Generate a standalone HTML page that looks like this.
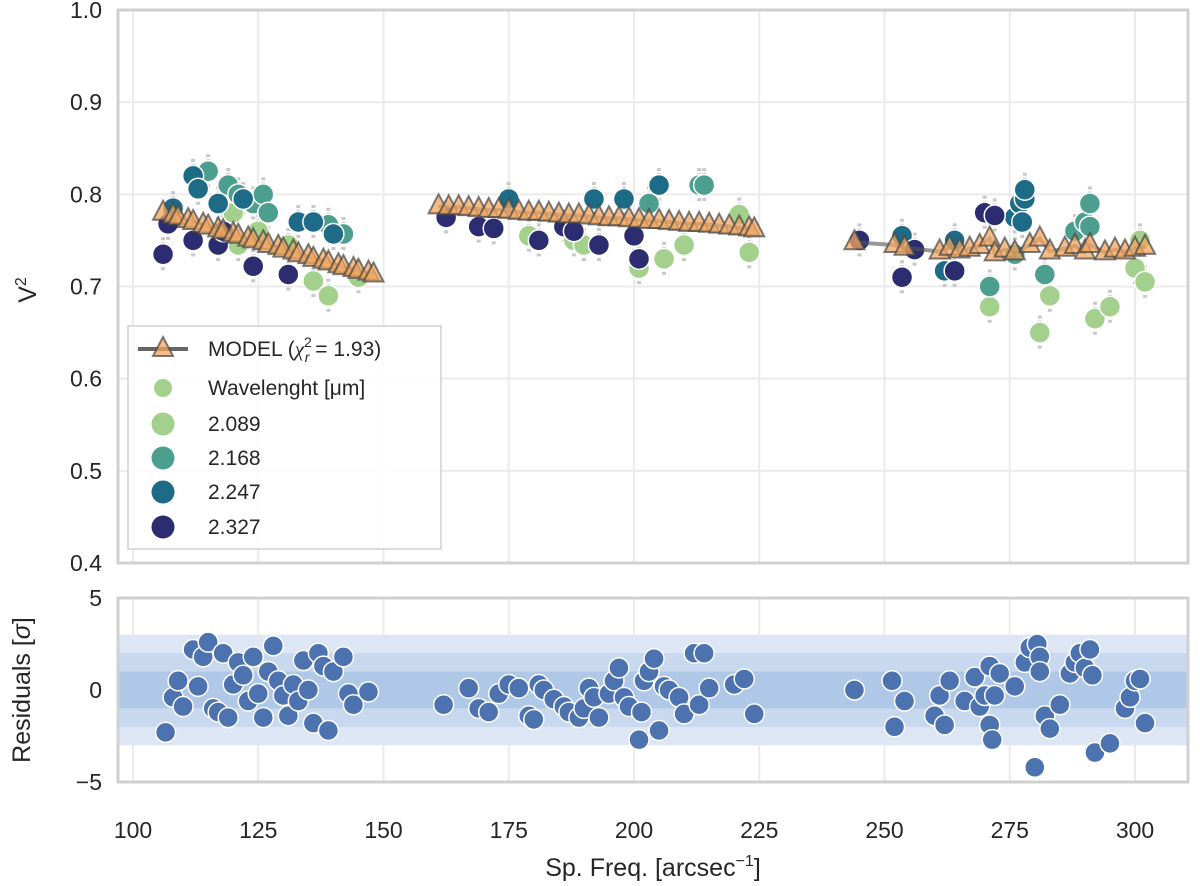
<!DOCTYPE html>
<html><head><meta charset="utf-8"><style>
body{margin:0;background:#fff;}
svg{display:block;font-family:"Liberation Sans",sans-serif;}
</style></head><body>
<svg id="chart" width="1200" height="886" viewBox="0 0 1200 886"></svg>
<script>
// ---- data ----
const xTicks=[100,125,150,175,200,225,250,275,300];
const yTicks=[0.4,0.5,0.6,0.7,0.8,0.9,1.0];
const rTicks=[-5,0,5];
const wlLabels=["2.089","2.168","2.247","2.327"];
const wlColors=["#a3d18d","#4c9f8f","#1e6b88","#2b2d70"];
const f2089=[120,121,125,131,136,139,145,179,188,190,201,206,210,221,223,271,281,283,292,295,300,301,302];
const v2089=[0.78,0.745,0.76,0.745,0.706,0.69,0.71,0.755,0.75,0.745,0.72,0.73,0.745,0.778,0.737,0.678,0.65,0.69,0.665,0.678,0.72,0.75,0.705];
const f2168=[115,119,121,124,126,127,139,142,203,213,214,271,276,282,288,290,291,291];
const v2168=[0.825,0.81,0.80,0.79,0.80,0.78,0.767,0.757,0.79,0.81,0.81,0.70,0.735,0.713,0.76,0.77,0.79,0.765];
const f2247=[108,112,113,117,122,133,136,140,175,192,198,205,253.5,262,264,276,277,278,277.5,278];
const v2247=[0.785,0.82,0.806,0.79,0.795,0.77,0.77,0.757,0.795,0.795,0.795,0.81,0.755,0.717,0.75,0.775,0.79,0.795,0.77,0.805];
const f2327=[106,107,112,117,118,124,131,162.5,169,172,181,186,188,193,200,201,245,253.5,256,264,270,272];
const v2327=[0.735,0.768,0.75,0.745,0.76,0.722,0.713,0.775,0.765,0.763,0.75,0.765,0.76,0.745,0.755,0.73,0.75,0.71,0.74,0.717,0.78,0.777];
const fModel=[106,108,109,111,112,114,115,117,118,120,121,123,124,126,127,129,130,132,133,135,136,138,139,141,142,144,145,147,148,
161,163,165,167,169,171,173,175,177,179,181,183,185,187,189,191,193,195,197,199,201,203,205,207,209,211,213,215,217,219,221,223,224,
244,252,254,261,263,265,267,269,271,272,274,276,279,281,283,286,288,290,291,294,296,298,300,302];
const vModel=[0.78,0.777,0.775,0.772,0.770,0.767,0.765,0.762,0.760,0.757,0.755,0.752,0.750,0.748,0.745,0.743,0.740,0.738,0.735,0.733,0.730,0.728,0.726,0.723,0.721,0.719,0.717,0.715,0.713,
0.787,0.786,0.786,0.785,0.784,0.783,0.783,0.782,0.781,0.780,0.780,0.779,0.778,0.777,0.777,0.776,0.775,0.774,0.774,0.773,0.772,0.771,0.771,0.770,0.769,0.768,0.768,0.767,0.766,0.765,0.764,0.763,0.762,
0.748,0.745,0.742,0.738,0.742,0.739,0.741,0.744,0.752,0.736,0.740,0.737,0.745,0.752,0.738,0.741,0.744,0.738,0.745,0.737,0.740,0.738,0.741,0.743];
const fRes=[106.5,108,109,110,112,113,114,115,116,117,118,119,120,121,122,123,124,125,126,127,128,129,130,131,132,133,134,135,136,137,138,139,140,142,143,144,147,
162,167,169,171,173,175,177,179,180,181,182,184,186,187,189,190,191,192,193,195,196,197,198,199,201,201.5,202,203,204,205,206,207,209,210,212,213,214,215,220,222,224,
244,251.5,252,254,260,261,262,263,266,268,269,270,271,271.5,271,272,273,276,278,279,280,280.5,281,281,282,283,285,287,288,289,290,291,291.5,292,295,298,299,300,301,302];
const vRes=[-2.3,-0.4,0.5,-0.9,2.2,0.2,1.8,2.6,-1.0,-1.2,2.0,-1.5,0.3,1.5,0.8,-0.6,1.8,-0.2,-1.5,1.0,2.4,0.5,-0.3,-1.4,0.3,-0.6,1.6,0,-1.8,2.0,1.3,-2.2,1.0,1.8,-0.2,-0.8,-0.1,
-0.8,0.1,-1.0,-1.2,-0.2,0.3,0.1,-1.4,-1.6,0.3,0,-0.5,-0.9,-1.2,-1.5,-1.0,0.1,-0.4,-1.5,-0.2,0.5,1.2,-0.4,-0.9,-2.7,-1.2,0.5,1.0,1.7,-2.2,0.2,0.0,-0.4,-1.3,2.0,-0.8,2.0,0.1,0.3,0.6,-1.3,
0,0.5,-2.0,-0.6,-1.4,-0.3,-1.9,0.5,-0.6,0.7,-0.9,-0.3,-1.9,-2.7,1.3,-0.3,0.9,0.2,1.5,2.3,-4.2,2.5,1.8,1.0,-1.4,-2.1,-0.8,0.9,1.5,2.0,1.2,2.2,0.8,-3.4,-2.9,-1.0,-0.4,0.5,0.6,-1.8];

// ---- scales ----
const X0=118,X1=1188;
const xs=f=>133+(f-100)*(1135-133)/200;
const ys=v=>563-(v-0.4)*(553/0.6);
const rs=r=>690-r*18.4;
const svg=document.getElementById('chart');
const NS='http://www.w3.org/2000/svg';
function mk(tag,attrs,parent){const e=document.createElementNS(NS,tag);for(const k in attrs)e.setAttribute(k,attrs[k]);(parent||svg).appendChild(e);return e;}

const grid=mk('g',{});


xTicks.forEach(t=>{mk('line',{x1:xs(t),x2:xs(t),y1:10,y2:563,stroke:'#ebebeb','stroke-width':2},grid);mk('line',{x1:xs(t),x2:xs(t),y1:598,y2:782,stroke:'#ebebeb','stroke-width':2},grid);});
yTicks.forEach(t=>mk('line',{x1:X0,x2:X1,y1:ys(t),y2:ys(t),stroke:'#ebebeb','stroke-width':2},grid));
[[3,'#dce6f4'],[2,'#c7d8ef'],[1,'#b0c8e8']].forEach(b=>{const r=mk('rect',{x:X0,width:X1-X0,y:rs(b[0]),height:rs(-b[0])-rs(b[0]),fill:b[1]});

});
rTicks.forEach(t=>mk('line',{x1:X0,x2:X1,y1:rs(t),y2:rs(t),stroke:'#ebebeb','stroke-width':2,'stroke-opacity':0.6},grid));

const pts=mk('g',{});


const series=[[f2089,v2089],[f2168,v2168],[f2247,v2247],[f2327,v2327]];
series.forEach((s,i)=>{s[0].forEach((f,j)=>{
  const cx=xs(f),cy=ys(s[1][j]);
  mk('line',{x1:cx,x2:cx,y1:cy-17,y2:cy+17,stroke:'#c8c8c8','stroke-width':4,'stroke-dasharray':'3 2'},pts);
});});
series.forEach((s,i)=>{s[0].forEach((f,j)=>{
  const c=mk('circle',{cx:xs(f),cy:ys(s[1][j]),r:10.5,fill:wlColors[i],stroke:'#fff','stroke-width':1.5},pts);
  
  
});});
const segs=[[0,29],[29,62],[62,fModel.length]];
segs.forEach(sg=>{let d='';for(let k=sg[0];k<sg[1];k++)d+=(k==sg[0]?'M':'L')+xs(fModel[k])+','+ys(vModel[k]);
const p=mk('path',{d:d,fill:'none',stroke:'#555','stroke-width':4,'stroke-opacity':0.6});

});
fModel.forEach((f,k)=>{const x=xs(f),y=ys(vModel[k]);
const t=mk('path',{d:`M${x},${y-12}L${x+10},${y+7}L${x-10},${y+7}Z`,fill:'#f2a55f','fill-opacity':0.75,stroke:'#444','stroke-opacity':0.7,'stroke-width':2});

});
fRes.forEach((f,k)=>{const c=mk('circle',{cx:xs(f),cy:rs(vRes[k]),r:10,fill:'#4c72b0',stroke:'#fff','stroke-width':1.5});

});

const f1=mk('rect',{x:X0,y:10,width:X1-X0,height:553,fill:'none',stroke:'#d0d0d0','stroke-width':3});


const f2=mk('rect',{x:X0,y:598,width:X1-X0,height:184,fill:'none',stroke:'#d0d0d0','stroke-width':3});



xTicks.forEach(t=>{const e=mk('text',{x:xs(t),y:838,'font-size':23,fill:'#262626','text-anchor':'middle'});e.textContent=t;

});
yTicks.forEach(t=>{const e=mk('text',{x:102,y:ys(t)+8,'font-size':23,fill:'#262626','text-anchor':'end'});e.textContent=t.toFixed(1);

});
rTicks.forEach(t=>{const e=mk('text',{x:102,y:rs(t)+8,'font-size':23,fill:'#262626','text-anchor':'end'});e.textContent=t<0?'\u22125':t;

});
</script>
<div style="position:absolute;left:0;top:0;width:1200px;height:886px;pointer-events:none">
<svg width="1200" height="886" style="position:absolute;left:0;top:0">
<text x="653" y="876" font-size="25" fill="#262626" text-anchor="middle" font-family="Liberation Sans">Sp. Freq. [arcsec<tspan font-size="16" dy="-10">−1</tspan><tspan dy="10">]</tspan></text>
<text transform="translate(36,290) rotate(-90)" font-size="25" fill="#262626" text-anchor="middle" font-family="Liberation Sans">V<tspan font-size="16" dy="-10">2</tspan></text>
<text transform="translate(30,690) rotate(-90)" font-size="25" fill="#262626" text-anchor="middle" font-family="Liberation Sans">Residuals [<tspan font-style="italic">σ</tspan>]</text>
<g font-family="Liberation Sans" font-size="21" fill="#262626">
<rect x="128" y="326" width="313" height="223" fill="#fff" fill-opacity="0.85" stroke="#d0d0d0" stroke-width="1.5"/>
<line x1="138" y1="349" x2="188" y2="349" stroke="#666" stroke-width="4"/>
<path d="M163,337 L173,356 L153,356Z" fill="#f2a55f" fill-opacity="0.75" stroke="#444" stroke-width="2" stroke-opacity="0.7"/>
<text x="208" y="356">MODEL (<tspan font-family="Liberation Serif" font-style="italic">χ</tspan><tspan font-size="14" dy="-9">2</tspan><tspan font-size="14" dy="15" dx="-7" font-style="italic">r</tspan><tspan dy="-6"> = 1.93)</tspan></text>
<circle cx="163" cy="388" r="9" fill="#a3d18d"/><text x="208" y="395">Wavelenght [μm]</text>
<circle cx="163" cy="424" r="11.5" fill="#a3d18d"/><text x="208" y="431">2.089</text>
<circle cx="163" cy="458" r="11.5" fill="#4c9f8f"/><text x="208" y="465">2.168</text>
<circle cx="163" cy="492" r="11.5" fill="#1e6b88"/><text x="208" y="499">2.247</text>
<circle cx="163" cy="527" r="11.5" fill="#2b2d70"/><text x="208" y="534">2.327</text>
</g>
</svg></div>
</body></html>
